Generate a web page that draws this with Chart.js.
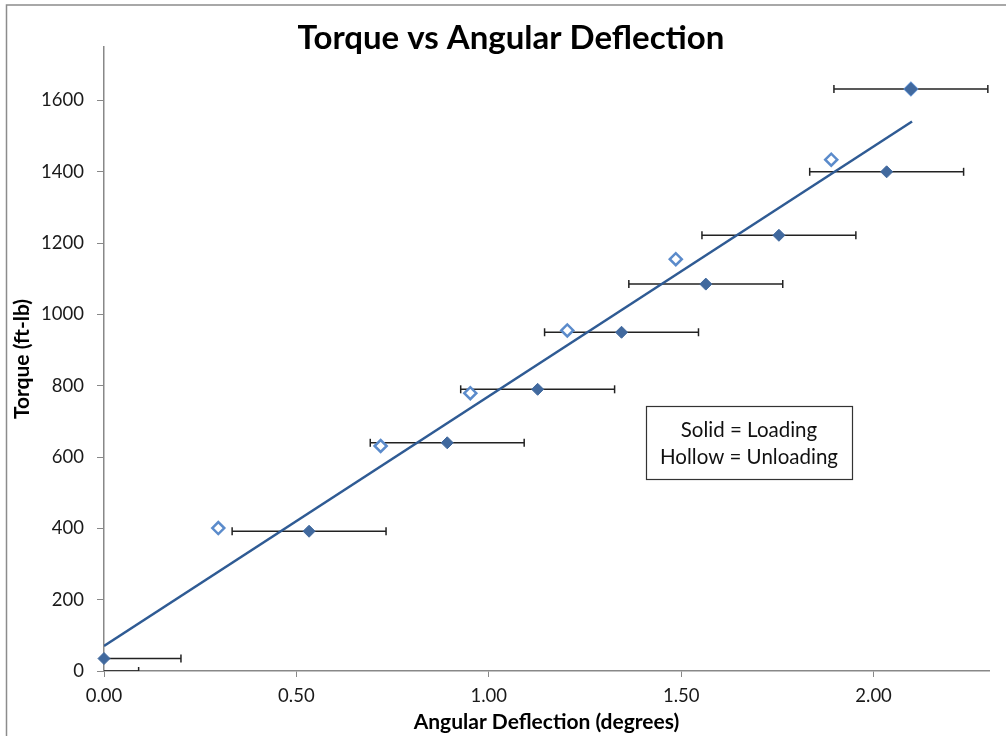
<!DOCTYPE html>
<html>
<head>
<meta charset="utf-8">
<title>Torque vs Angular Deflection</title>
<script src="https://cdn.jsdelivr.net/npm/chart.js@4.4.1/dist/chart.umd.min.js"></script>
<style>
  body { margin: 0; background: #fff; }
  #wrap { position: relative; width: 1006px; height: 736px; }
</style>
</head>
<body>
<div id="wrap"><canvas id="torque-chart" width="1006" height="736"></canvas></div>
<script>
// Values
var loadX = [0.00, 0.533, 0.892, 1.127, 1.345, 1.564, 1.754, 2.034, 2.097];
var loadY = [35, 392, 640, 790, 950, 1085, 1222, 1400, 1632];
var loadErr = [0.2, 0.2, 0.2, 0.2, 0.2, 0.2, 0.2, 0.2, 0.2];

var unloadX = [0.297, 0.719, 0.952, 1.204, 1.486, 1.890, 2.097];
var unloadY = [401, 631, 779, 955, 1155, 1434, 1632];

// short bar that sits on the x axis at zero torque
var extraX = [0.00];
var extraY = [0];
var extraErr = [0.09];

// linear trendline end points
var trendX = [0.00, 2.10];
var trendY = [70, 1541];

var xTicks = [0.00, 0.50, 1.00, 1.50, 2.00];
var yTicks = [0, 200, 400, 600, 800, 1000, 1200, 1400, 1600];

var noteLines = ["Solid = Loading", "Hollow = Unloading"];

function toPoints(xs, ys) {
  var pts = [];
  for (var i = 0; i < xs.length; i++) {
    pts.push({ x: xs[i], y: ys[i] });
  }
  return pts;
}

function errorBarSets(xs, ys, errs) {
  var sets = [];
  for (var i = 0; i < xs.length; i++) {
    sets.push({
      type: "line",
      data: [{ x: xs[i] - errs[i], y: ys[i] }, { x: xs[i] + errs[i], y: ys[i] }],
      borderColor: "#222",
      borderWidth: 1.5,
      pointStyle: "line",
      rotation: 90,
      pointRadius: 4,
      pointHoverRadius: 4,
      pointBorderColor: "#222",
      pointBorderWidth: 1.5,
      fill: false,
      order: 3
    });
  }
  return sets;
}

var datasets = [
  {
    label: "Loading",
    data: toPoints(loadX, loadY),
    pointStyle: "rectRot",
    pointRadius: 6,
    backgroundColor: "#41699e",
    borderColor: "#41699e",
    borderWidth: 1,
    clip: false,
    order: 0
  },
  {
    label: "Unloading",
    data: toPoints(unloadX, unloadY),
    pointStyle: "rectRot",
    pointRadius: 6,
    backgroundColor: "#fff",
    borderColor: "#5b8bcb",
    borderWidth: 2.5,
    clip: false,
    order: 1
  },
  {
    type: "line",
    label: "Trend",
    data: toPoints(trendX, trendY),
    borderColor: "#2f5b94",
    borderWidth: 2.5,
    pointRadius: 0,
    fill: false,
    order: 2
  }
].concat(errorBarSets(loadX, loadY, loadErr), errorBarSets(extraX, extraY, extraErr));

// frame, title and the note box
var decor = {
  id: "decor",
  afterDraw: function(chart) {
    var ctx = chart.ctx;
    ctx.save();
    ctx.strokeStyle = "#8c8c8c";
    ctx.lineWidth = 1.5;
    ctx.strokeRect(6.5, 5, 1100, 1000);

    ctx.fillStyle = "#000";
    ctx.font = "bold 33px Lato";
    ctx.textAlign = "center";
    ctx.textBaseline = "middle";
    ctx.fillText("Torque vs Angular Deflection", 511, 38);

    var bx = 646, by = 406, bw = 206, bh = 73;
    ctx.fillStyle = "#fff";
    ctx.fillRect(bx, by, bw, bh);
    ctx.strokeStyle = "#333";
    ctx.lineWidth = 1.2;
    ctx.strokeRect(bx + 0.5, by + 0.5, bw, bh);
    ctx.fillStyle = "#111";
    ctx.font = "20.5px Lato";
    ctx.fillText(noteLines[0], bx + bw / 2, by + 24);
    ctx.fillText(noteLines[1], bx + bw / 2, by + 51);
    ctx.restore();
  }
};

var ctx = document.getElementById("torque-chart");

var chart = new Chart(ctx, {
  type: "scatter",
  data: { datasets: datasets },
  options: {
    responsive: false,
    animation: false,
    layout: { padding: { left: 7, top: 47, right: 17, bottom: 0 } },
    plugins: {
      legend: { display: false },
      tooltip: { enabled: false }
    },
    scales: {
      x: {
        type: "linear",
        min: 0,
        max: 2.3,
        afterFit: function(scale) { scale.height = 65; },
        afterBuildTicks: function(scale) {
          scale.ticks = xTicks.map(function(v) { return { value: v }; });
        },
        ticks: {
          callback: function(v) { return Number(v).toFixed(2); },
          font: { family: "Lato", size: 18.5 },
          color: "#1a1a1a",
          padding: 8,
          maxRotation: 0
        },
        grid: { drawOnChartArea: false, drawTicks: true, tickLength: 6, color: "#888", lineWidth: 1 },
        border: { color: "#888", width: 1.5 },
        title: {
          display: true,
          text: "Angular Deflection (degrees)",
          font: { family: "Lato", size: 21, weight: "bold" },
          color: "#000",
          padding: { top: 0, bottom: 1 }
        }
      },
      y: {
        type: "linear",
        min: 0,
        max: 1750,
        afterFit: function(scale) { scale.width = 97; },
        afterBuildTicks: function(scale) {
          scale.ticks = yTicks.map(function(v) { return { value: v }; });
        },
        ticks: {
          callback: function(v) { return String(v); },
          font: { family: "Lato", size: 18.5 },
          color: "#1a1a1a",
          padding: 13
        },
        grid: { drawOnChartArea: false, drawTicks: true, tickLength: 7, color: "#888", lineWidth: 1 },
        border: { color: "#888", width: 1.5 },
        title: {
          display: true,
          text: "Torque (ft-lb)",
          font: { family: "Lato", size: 21, weight: "bold" },
          color: "#000",
          padding: { top: 3, bottom: 0 }
        }
      }
    }
  },
  plugins: [decor]
});
</script>
</body>
</html>
